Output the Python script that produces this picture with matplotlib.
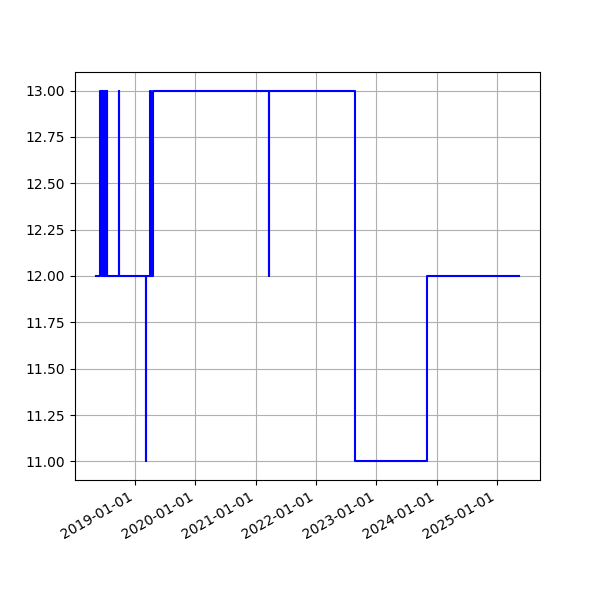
import matplotlib
matplotlib.use("Agg")
import matplotlib.pyplot as plt
import matplotlib.dates as mdates
import pandas as pd

# Pontos de mudança (degraus)
datas = [
    "2018-05-10", "2018-06-03", "2018-06-12", "2018-06-16", "2018-06-19",
    "2018-06-24", "2018-06-28", "2018-07-03", "2018-07-07", "2018-07-12",
    "2018-07-16", "2018-07-22", "2018-09-23", "2018-09-27", "2019-03-07",
    "2019-03-10", "2019-03-31", "2019-04-06", "2019-04-20", "2021-03-21",
    "2021-03-23", "2022-08-25", "2023-11-02", "2025-05-12",
]
valores = [
    12, 13, 12, 13, 12,
    13, 12, 13, 12, 13,
    12, 12, 13, 12, 11,
    12, 13, 12, 13, 12,
    13, 11, 12, 12,
]

x = pd.to_datetime(datas)

fig, ax = plt.subplots(figsize=(6, 6), dpi=100)
ax.plot(x, valores, color="blue", drawstyle="steps-post")
ax.xaxis.set_major_locator(mdates.YearLocator())
ax.xaxis.set_major_formatter(mdates.DateFormatter("%Y-%m-%d"))
ax.grid(True)
fig.autofmt_xdate()
fig.savefig("out.png", dpi=100)
